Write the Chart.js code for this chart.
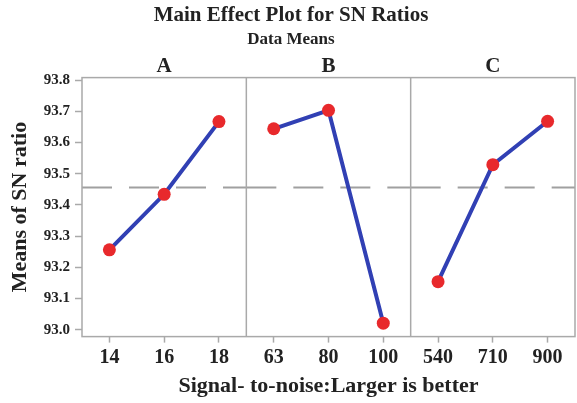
<!DOCTYPE html>
<html>
<head>
<meta charset="utf-8">
<script src="https://cdn.jsdelivr.net/npm/chart.js@4"></script>
<style>
  html, body { margin: 0; padding: 0; background: #fff; }
  #wrap { width: 577px; height: 403px; }
</style>
</head>
<body>
<div id="wrap"><canvas id="mainEffects"></canvas></div>
<script>
// ===== DATA =====
const factors = ['A', 'B', 'C'];
const levels = ['14', '16', '18', '63', '80', '100', '540', '710', '900'];
const snA = [93.256, 93.434, 93.667];
const snB = [93.644, 93.703, 93.021];
const snC = [93.154, 93.529, 93.668];
const meanSN = 93.456;
const yTicks = [93.0, 93.1, 93.2, 93.3, 93.4, 93.5, 93.6, 93.7, 93.8];

const SERIF = "'Liberation Serif', 'Times New Roman', serif";
const FRAME = '#a9a9a9';

// each factor only fills its own three slots, so the lines break between panels
function panelSeries(vals, panel) {
  return levels.map((_, i) => (Math.floor(i / 3) === panel ? vals[i % 3] : null));
}

// ===== PANELS: frame, dividers, headers, mean line =====
const panelPlugin = {
  id: 'panels',
  beforeDatasetsDraw(chart) {
    const { ctx, chartArea: { left, right, top, bottom }, scales: { x, y } } = chart;
    const edges = [left];
    for (let p = 1; p < factors.length; p++) {
      edges.push((x.getPixelForValue(p * 3 - 1) + x.getPixelForValue(p * 3)) / 2);
    }
    edges.push(right);

    ctx.save();
    // dashed reference line, restarted in every panel
    const ym = y.getPixelForValue(meanSN);
    ctx.strokeStyle = '#a0a0a0';
    ctx.lineWidth = 2;
    ctx.setLineDash([30, 17]);
    for (let p = 0; p < factors.length; p++) {
      ctx.beginPath();
      ctx.moveTo(edges[p], ym);
      ctx.lineTo(edges[p + 1], ym);
      ctx.stroke();
    }
    ctx.setLineDash([]);

    // frame + dividers
    ctx.strokeStyle = FRAME;
    ctx.lineWidth = 1.5;
    ctx.strokeRect(left, top, right - left, bottom - top);
    for (let p = 1; p < factors.length; p++) {
      ctx.beginPath();
      ctx.moveTo(edges[p], top);
      ctx.lineTo(edges[p], bottom);
      ctx.stroke();
    }

    // factor headers
    ctx.fillStyle = '#222';
    ctx.font = 'bold 21px ' + SERIF;
    ctx.textAlign = 'center';
    ctx.textBaseline = 'middle';
    factors.forEach((f, p) => ctx.fillText(f, (edges[p] + edges[p + 1]) / 2, top - 11));
    ctx.restore();
  }
};

// ===== CHART =====
new Chart(document.getElementById('mainEffects'), {
  type: 'line',
  data: {
    labels: levels,
    datasets: [snA, snB, snC].map((vals, p) => ({
      label: factors[p],
      data: panelSeries(vals, p),
      spanGaps: false,
      borderColor: '#3140b4',
      borderWidth: 4,
      pointRadius: 6.5,
      pointHoverRadius: 6.5,
      pointBackgroundColor: '#e8292c',
      pointBorderWidth: 0,
      tension: 0
    }))
  },
  options: {
    responsive: true,
    maintainAspectRatio: false,
    animation: false,
    layout: { autoPadding: false, padding: { left: 7, right: 2, top: 0, bottom: 3 } },
    plugins: {
      legend: { display: false },
      tooltip: { enabled: false },
      title: {
        display: true,
        text: 'Main Effect Plot for SN Ratios',
        color: '#222',
        font: { family: SERIF, size: 21, weight: 'bold' },
        padding: { top: 3, bottom: 0 }
      },
      subtitle: {
        display: true,
        text: 'Data Means',
        color: '#222',
        font: { family: SERIF, size: 17, weight: 'bold' },
        padding: { top: 1, bottom: 28 }
      }
    },
    scales: {
      x: {
        type: 'category',
        offset: true,
        afterFit: s => { s.paddingRight = 0; s.paddingLeft = 0; },
        grid: { offset: false, drawOnChartArea: false, drawTicks: true, tickLength: 6, tickColor: FRAME, tickWidth: 1.5 },
        border: { display: false },
        ticks: { color: '#222', font: { family: SERIF, size: 20, weight: 'bold' }, padding: 3, maxRotation: 0, autoSkip: false },
        title: {
          display: true,
          text: 'Signal- to-noise:Larger is better',
          color: '#222',
          font: { family: SERIF, size: 22, weight: 'bold' },
          padding: { top: 1, bottom: 0 }
        }
      },
      y: {
        min: 92.978,
        max: 93.808,
        afterBuildTicks: s => { s.ticks = yTicks.map(v => ({ value: v })); },
        afterFit: s => { s.width = 75; },
        grid: { drawOnChartArea: false, drawTicks: true, tickLength: 7, tickColor: FRAME, tickWidth: 1.5 },
        border: { display: false },
        ticks: { color: '#222', font: { family: SERIF, size: 15, weight: 'bold' }, padding: 5, callback: v => v.toFixed(1) },
        title: {
          display: true,
          text: 'Means of SN ratio',
          color: '#222',
          font: { family: SERIF, size: 22, weight: 'bold' },
          padding: 0
        }
      }
    }
  },
  plugins: [panelPlugin]
});
</script>
</body>
</html>
